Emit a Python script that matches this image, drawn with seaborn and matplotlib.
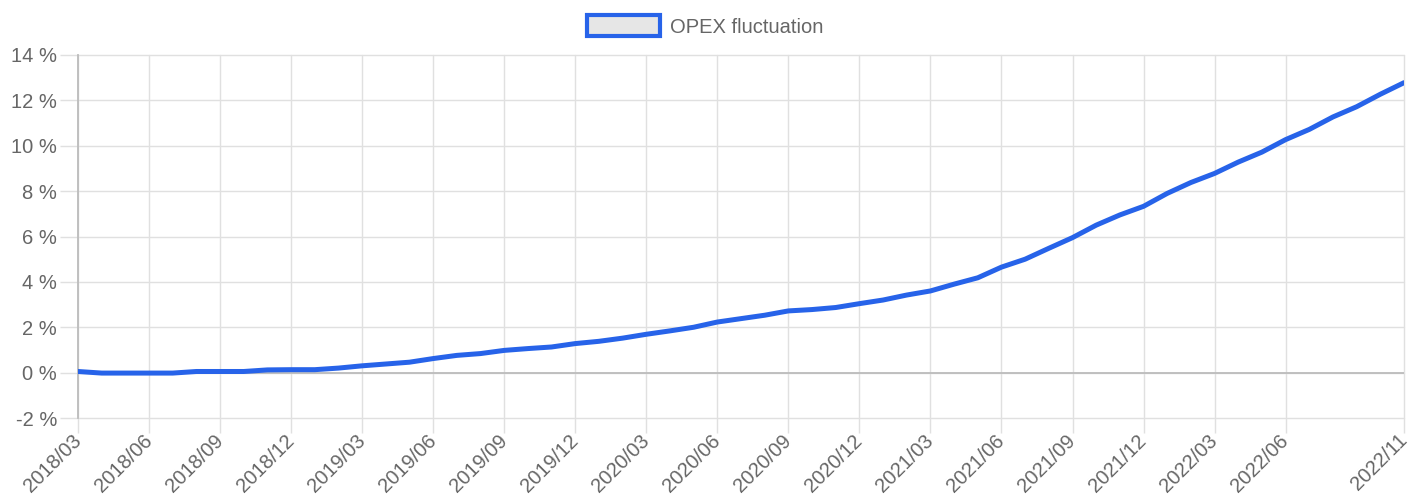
import numpy as np
import pandas as pd
import matplotlib
matplotlib.use("Agg")
import matplotlib.pyplot as plt
import seaborn as sns
from matplotlib.patches import Patch

# ---- data ----
months = [
    "2018/03", "2018/04", "2018/05", "2018/06", "2018/07", "2018/08", "2018/09", "2018/10", "2018/11", "2018/12",
    "2019/01", "2019/02", "2019/03", "2019/04", "2019/05", "2019/06", "2019/07", "2019/08", "2019/09", "2019/10", "2019/11", "2019/12",
    "2020/01", "2020/02", "2020/03", "2020/04", "2020/05", "2020/06", "2020/07", "2020/08", "2020/09", "2020/10", "2020/11", "2020/12",
    "2021/01", "2021/02", "2021/03", "2021/04", "2021/05", "2021/06", "2021/07", "2021/08", "2021/09", "2021/10", "2021/11", "2021/12",
    "2022/01", "2022/02", "2022/03", "2022/04", "2022/05", "2022/06", "2022/07", "2022/08", "2022/09", "2022/10", "2022/11",
]
opex = [
    0.05, -0.02, -0.02, -0.02, -0.02, 0.05, 0.05, 0.05, 0.12, 0.13,
    0.13, 0.20, 0.30, 0.38, 0.46, 0.62, 0.76, 0.84, 0.98, 1.06, 1.13, 1.28,
    1.38, 1.52, 1.69, 1.84, 2.00, 2.23, 2.38, 2.53, 2.72, 2.78, 2.87, 3.04,
    3.20, 3.42, 3.60, 3.90, 4.18, 4.65, 5.00, 5.48, 5.95, 6.50, 6.95, 7.33,
    7.90, 8.38, 8.78, 9.28, 9.72, 10.27, 10.72, 11.27, 11.72, 12.27, 12.78,
]
tick_labels = ["2018/03", "2018/06", "2018/09", "2018/12", "2019/03", "2019/06", "2019/09",
               "2019/12", "2020/03", "2020/06", "2020/09", "2020/12", "2021/03", "2021/06",
               "2021/09", "2021/12", "2022/03", "2022/06", "2022/11"]
y_ticks = [-2, 0, 2, 4, 6, 8, 10, 12, 14]
series_name = "OPEX fluctuation"

# ---- style ----
sns.set_theme(style="white")
plt.rcParams["font.family"] = ["Liberation Sans", "DejaVu Sans"]

LINE = "#2763e9"
TEXT = "#666666"
GRID = "#e0e0e0"
AXIS = "#bcbcbc"

df = pd.DataFrame({"idx": np.arange(len(months)), "value": opex, "month": months})

fig = plt.figure(figsize=(14.1, 5.0), dpi=100)
ax = fig.add_axes([78 / 1410, 82 / 500, 1326 / 1410, 363 / 500])

sns.lineplot(data=df, x="idx", y="value", ax=ax, color=LINE, linewidth=3.6,
             solid_capstyle="round", zorder=3, legend=False)

ax.set_xlim(0, len(months) - 1)
ax.set_ylim(-2, 14)

xt = [months.index(m) for m in tick_labels]
ax.set_xticks(xt)
ax.set_xticklabels(tick_labels, rotation=45, ha="right", va="center", rotation_mode="anchor")
ax.set_yticks(y_ticks)
ax.set_yticklabels([f"{v} %" for v in y_ticks])

ax.grid(True, color=GRID, linewidth=1.0, zorder=0)
for gl in ax.get_xgridlines() + ax.get_ygridlines():
    gl.set_clip_on(False)
ax.axhline(0, color=AXIS, linewidth=1.3, zorder=1.5)

for s in ["top", "right", "bottom"]:
    ax.spines[s].set_visible(False)
ax.spines["left"].set_color(AXIS)
ax.spines["left"].set_linewidth(1.3)

ax.tick_params(axis="x", bottom=True, length=11, width=1.0, color=GRID, pad=3,
               labelsize=14.5, labelcolor=TEXT)
ax.tick_params(axis="y", left=True, length=13, width=1.0, color=GRID, pad=2,
               labelsize=14.5, labelcolor=TEXT)
ax.set_xlabel("")
ax.set_ylabel("")

handle = Patch(facecolor="#e6e6e6", edgecolor=LINE, linewidth=3)
fig.legend([handle], [series_name], loc="center", bbox_to_anchor=(0.5, 1 - 26 / 500),
           frameon=False, fontsize=14.5, labelcolor=TEXT, handlelength=3.6, handleheight=1.2,
           handletextpad=0.5, borderpad=0)

fig.savefig("out.png", dpi=100, facecolor="white")
